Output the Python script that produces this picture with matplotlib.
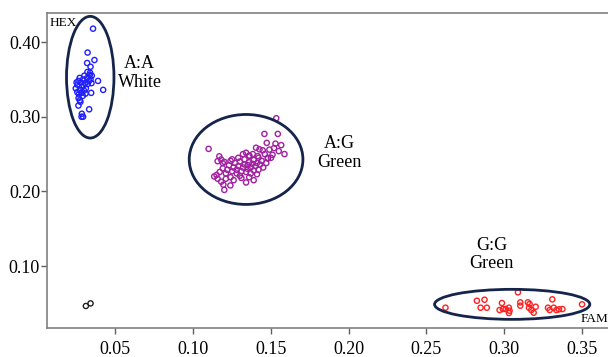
import numpy as np
import matplotlib
matplotlib.use('Agg')
from matplotlib import pyplot as plt
from matplotlib.patches import Ellipse

# ---- data ----
aa_x = [0.0356, 0.0321, 0.0365, 0.0318, 0.0340, 0.0348, 0.0337, 0.0388, 0.0421, 0.0331,
        0.0284, 0.0292, 0.0282, 0.0344, 0.0271, 0.0263,
        0.0245, 0.0255, 0.0262, 0.0270, 0.0278, 0.0285, 0.0292, 0.0300, 0.0305, 0.0310,
        0.0318, 0.0322, 0.0330, 0.0335, 0.0340, 0.0346, 0.0255, 0.0265, 0.0272, 0.0282,
        0.0290, 0.0298, 0.0308, 0.0250, 0.0275, 0.0262, 0.0296, 0.0320]
aa_y = [0.418, 0.386, 0.376, 0.372, 0.367, 0.355, 0.359, 0.348, 0.336, 0.310,
        0.304, 0.300, 0.300, 0.332, 0.322, 0.325,
        0.338, 0.343, 0.348, 0.352, 0.346, 0.340, 0.350, 0.355, 0.345, 0.338,
        0.352, 0.344, 0.348, 0.356, 0.350, 0.345, 0.333, 0.330, 0.336, 0.332,
        0.328, 0.335, 0.331, 0.346, 0.320, 0.315, 0.342, 0.360]

ag_x = [0.1534, 0.1458, 0.1544, 0.1473, 0.1529, 0.1566, 0.1587, 0.1099, 0.120, 0.1194,
        0.1239, 0.134, 0.1389, 0.1135, 0.1157, 0.1168, 0.1157, 0.1179, 0.1200, 0.125,
        0.1404, 0.1426, 0.1447, 0.148, 0.150, 0.1383, 0.1415, 0.134, 0.1361,
        0.115, 0.117, 0.119, 0.121, 0.122, 0.123, 0.124, 0.125, 0.126, 0.127,
        0.128, 0.128, 0.129, 0.130, 0.130, 0.131, 0.132, 0.133, 0.133, 0.134,
        0.135, 0.135, 0.136, 0.137, 0.137, 0.138, 0.139, 0.139, 0.140, 0.141,
        0.142, 0.142, 0.143, 0.144, 0.145, 0.146, 0.147, 0.148, 0.149, 0.151,
        0.152, 0.155, 0.118, 0.121, 0.126, 0.131, 0.136, 0.141, 0.129, 0.124,
        0.119, 0.136, 0.132]
ag_y = [0.298, 0.277, 0.277, 0.265, 0.264, 0.262, 0.250, 0.257, 0.202, 0.209,
        0.208, 0.212, 0.215, 0.220, 0.217, 0.247, 0.2405, 0.2428, 0.2396, 0.243,
        0.2585, 0.2564, 0.255, 0.245, 0.245, 0.250, 0.2473, 0.2518, 0.2473,
        0.222, 0.226, 0.231, 0.224, 0.229, 0.235, 0.219, 0.227, 0.232, 0.238,
        0.224, 0.229, 0.234, 0.240, 0.221, 0.227, 0.232, 0.236, 0.243, 0.226,
        0.230, 0.235, 0.239, 0.224, 0.232, 0.237, 0.228, 0.242, 0.234, 0.238,
        0.229, 0.245, 0.236, 0.241, 0.232, 0.250, 0.238, 0.244, 0.256, 0.249,
        0.258, 0.254, 0.213, 0.217, 0.215, 0.218, 0.219, 0.223, 0.245, 0.241,
        0.238, 0.248, 0.250]

gg_x = [0.2622, 0.2824, 0.2873, 0.2848, 0.2888, 0.2985, 0.2970, 0.2991, 0.3009, 0.3030,
        0.3034, 0.3030, 0.3088, 0.3103, 0.3103, 0.3152, 0.3163, 0.3159, 0.3174, 0.3189,
        0.3202, 0.3309, 0.3281, 0.3292, 0.3318, 0.3335, 0.3352, 0.3374, 0.3500]
gg_y = [0.0442, 0.0535, 0.0549, 0.0442, 0.0442, 0.0505, 0.0411, 0.0424, 0.0424, 0.0442,
        0.0402, 0.0371, 0.0648, 0.0514, 0.0469, 0.0514, 0.0491, 0.0442, 0.0411, 0.0375,
        0.0455, 0.0554, 0.0442, 0.0411, 0.0442, 0.0411, 0.0420, 0.0424, 0.0487]

ntc_x = [0.031, 0.034]
ntc_y = [0.0465, 0.050]

xticks = [0.05, 0.10, 0.15, 0.20, 0.25, 0.30, 0.35]
yticks = [0.10, 0.20, 0.30, 0.40]

plt.rcParams['font.family'] = ['Liberation Serif', 'DejaVu Serif']

fig = plt.figure(figsize=(6.08, 3.57), dpi=100)
ax = fig.add_axes([0.0773, 0.0812, 0.9227, 0.8824])

mk = dict(marker='o', s=14, facecolors='none', linewidths=1.0)
ax.scatter(aa_x, aa_y, edgecolors='#1f1fff', **mk)
ax.scatter(ag_x, ag_y, edgecolors='#a020a0', **mk)
ax.scatter(gg_x, gg_y, edgecolors='#ff2020', **mk)
ax.scatter(ntc_x, ntc_y, edgecolors='#202020', **mk)

ec = '#14244a'
ax.add_patch(Ellipse((0.0338, 0.353), 0.0305, 0.163, fill=False, ec=ec, lw=2))
ax.add_patch(Ellipse((0.134, 0.2428), 0.0731, 0.1205, fill=False, ec=ec, lw=2))
ax.add_patch(Ellipse((0.3051, 0.0487), 0.0998, 0.0402, fill=False, ec=ec, lw=2))

ax.text(0.0656, 0.359, 'A:A\nWhite', ha='center', va='center', fontsize=13, linespacing=1.15)
ax.text(0.194, 0.251, 'A:G\nGreen', ha='center', va='center', fontsize=13, linespacing=1.15)
ax.text(0.292, 0.1155, 'G:G\nGreen', ha='center', va='center', fontsize=13, linespacing=1.15)
ax.text(0.008, 0.434, 'HEX', ha='left', va='top', fontsize=9.5)
ax.text(0.3668, 0.021, 'FAM', ha='right', va='bottom', fontsize=9.5)

ax.set_xlim(0.006, 0.3667)
ax.set_ylim(0.017, 0.439)
ax.set_xticks(xticks)
ax.set_yticks(yticks)
ax.set_xticklabels(['%.2f' % v for v in xticks])
ax.set_yticklabels(['%.2f' % v for v in yticks])
ax.tick_params(labelsize=13, color='#606060', length=4, width=1, pad=1)
ax.tick_params(axis='x', pad=5)
for s in ['left', 'bottom', 'top']:
    ax.spines[s].set_color('#808080')
    ax.spines[s].set_linewidth(1.2)
ax.spines['right'].set_visible(False)

fig.savefig('out.png', dpi=100)
